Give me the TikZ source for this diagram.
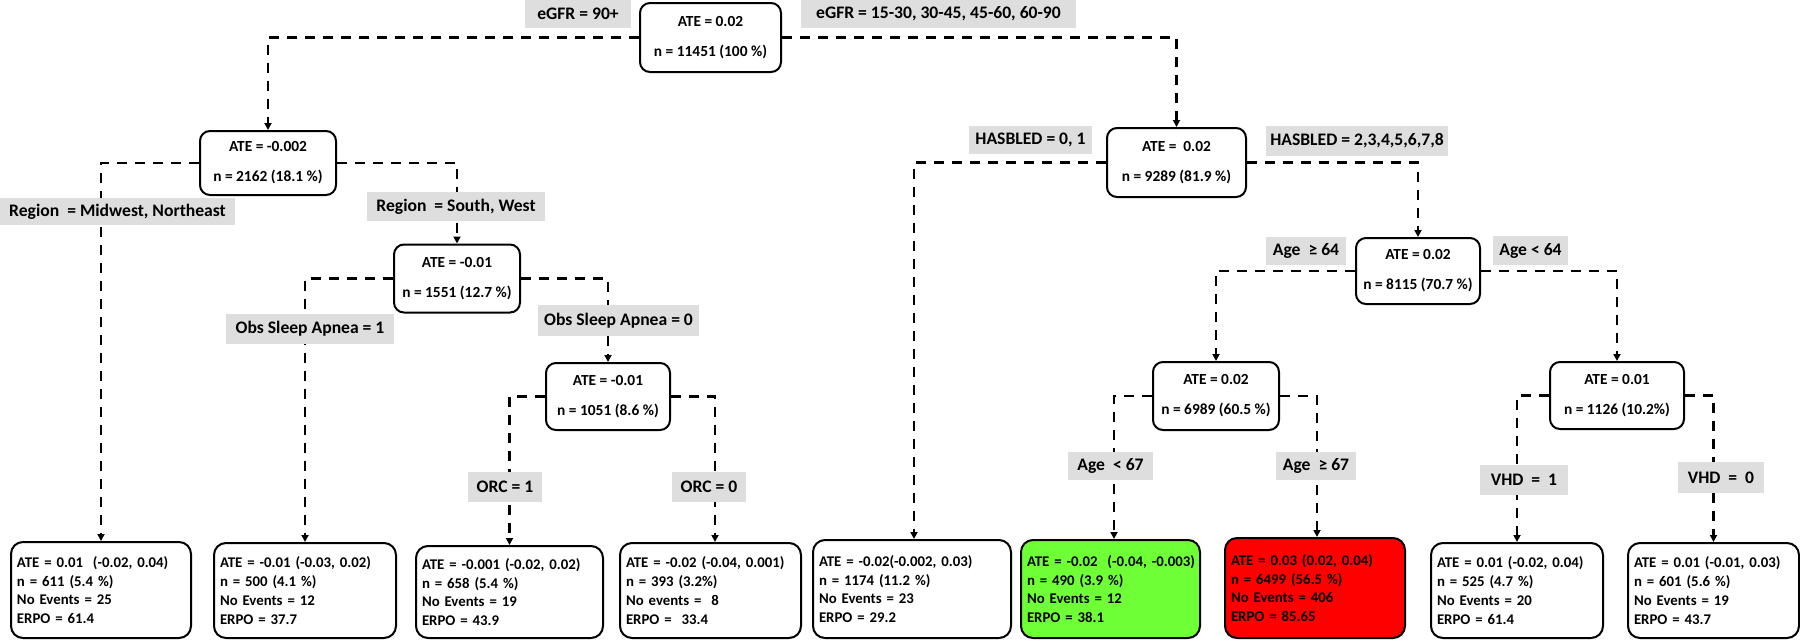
\documentclass[tikz,border=0pt]{standalone}
\usepackage{fontspec}
\setmainfont{Carlito}
\usetikzlibrary{arrows.meta}
\definecolor{lblgray}{RGB}{222,222,222}
\definecolor{leafgreen}{RGB}{110,255,55}
\definecolor{leafred}{RGB}{255,0,0}
\begin{document}
\begin{tikzpicture}[x=0.5pt,y=-0.5pt,
  box/.style={draw, line width=1pt, rounded corners=5pt, fill=white,
    font=\fontsize{7.7}{15}\selectfont\bfseries, align=center, inner sep=0pt},
  leaf/.style={draw, line width=1pt, rounded corners=6pt, fill=white,
    font=\fontsize{7.4}{9.4}\selectfont\bfseries, align=left,
    inner xsep=3pt, inner ysep=0pt, anchor=south},
  lbl/.style={fill=lblgray, inner sep=0pt, font=\fontsize{8.8}{10}\selectfont\bfseries},
  conn/.style={line width=1.35pt, dash pattern=on 5pt off 4pt},
  arr/.style={conn, -{Triangle[length=3.5pt,width=3.5pt]}}]
\useasboundingbox (0,0) rectangle (1800,643);

% internal nodes
\node[box, minimum width=70.5pt, minimum height=34.5pt] (root) at (710.5,37.5) {ATE = 0.02\\n = 11451 (100 \%)};
\node[box, minimum width=68pt, minimum height=32pt] (n1) at (268,163) {ATE = -0.002\\n = 2162 (18.1 \%)};
\node[box, minimum width=63pt, minimum height=34pt] (n2) at (457,278.5) {ATE = -0.01\\n = 1551 (12.7 \%)};
\node[box, minimum width=62pt, minimum height=33.5pt] (n3) at (608,396.5) {ATE = -0.01\\n = 1051 (8.6 \%)};
\node[box, minimum width=69.5pt, minimum height=34.5pt] (h) at (1176.5,162.5) {ATE = \ 0.02\\n = 9289 (81.9 \%)};
\node[box, minimum width=62pt, minimum height=33pt] (a) at (1418,271) {ATE = 0.02\\n = 8115 (70.7 \%)};
\node[box, minimum width=63pt, minimum height=34pt] (b) at (1216,396) {ATE = 0.02\\n = 6989 (60.5 \%)};
\node[box, minimum width=67pt, minimum height=33.5pt] (c) at (1617,395.5) {ATE = 0.01\\n = 1126 (10.2\%)};

% leaves
\node[leaf, text width=84pt, minimum height=48pt] (L1) at (101,639) {ATE = 0.01 \ (-0.02, 0.04)\\n = 611 (5.4 \%)\\No Events = 25\\ERPO = 61.4};
\node[leaf, text width=85pt, minimum height=47.5pt] (L2) at (305,639) {ATE = -0.01 (-0.03, 0.02)\\n = 500 (4.1 \%)\\No Events = 12\\ERPO = 37.7};
\node[leaf, text width=87.5pt, minimum height=46pt] (L3) at (509.5,639) {ATE = -0.001 (-0.02, 0.02)\\n = 658 (5.4 \%)\\No Events = 19\\ERPO = 43.9};
\node[leaf, text width=84.5pt, minimum height=47.5pt] (L4) at (710.5,639) {ATE = -0.02 (-0.04, 0.001)\\n = 393 (3.2\%)\\No events = \ 8\\ERPO = \ 33.4};
\node[leaf, text width=93pt, minimum height=49pt] (L5) at (912,639) {ATE = -0.02(-0.002, 0.03)\\n = 1174 (11.2 \%)\\No Events = 23\\ERPO = 29.2};
\node[leaf, fill=leafgreen, text width=83.5pt, minimum height=49pt] (L6) at (1110.5,639) {\mbox{ATE = -0.02 \ (-0.04, -0.003)}\\n = 490 (3.9 \%)\\No Events = 12\\ERPO = 38.1};
\node[leaf, fill=leafred, text width=84pt, minimum height=50pt] (L7) at (1315,639) {ATE = 0.03 (0.02, 0.04)\\n = 6499 (56.5 \%)\\No Events = 406\\ERPO = 85.65};
\node[leaf, text width=80pt, minimum height=47.5pt] (L8) at (1517,639) {ATE = 0.01 (-0.02, 0.04)\\n = 525 (4.7 \%)\\No Events = 20\\ERPO = 61.4};
\node[leaf, text width=79.5pt, minimum height=47.5pt] (L9) at (1713.5,639) {ATE = 0.01 (-0.01, 0.03)\\n = 601 (5.6 \%)\\No Events = 19\\ERPO = 43.7};

% connectors
\draw[arr] (root.west) -| (n1.north);
\draw[arr] (root.east) -| (h.north);
\draw[arr] (n1.west) -| (L1.north);
\draw[arr] (n1.east) -| (n2.north);
\draw[arr] (n2.west) -| (L2.north);
\draw[arr] (n2.east) -| (n3.north);
\draw[arr] (n3.west) -| (L3.north);
\draw[arr] (n3.east) -| ([xshift=2.25pt]L4.north);
\draw[arr] (h.west) -| ([xshift=1pt]L5.north);
\draw[arr] (h.east) -| (a.north);
\draw[arr] (a.west) -| (b.north);
\draw[arr] (a.east) -| (c.north);
\draw[arr] (b.west) -| ([xshift=1.75pt]L6.north);
\draw[arr] (b.east) -| ([xshift=1pt]L7.north);
\draw[arr] (c.west) -| (L8.north);
\draw[arr] (c.east) -| (L9.north);

% labels
\node[lbl, minimum width=53pt, minimum height=14pt] (e1) at (578,14) {eGFR = 90+};
\node[lbl, minimum width=137.5pt, minimum height=14pt] (e2) at (938.5,14) {eGFR = 15-30, 30-45, 45-60, 60-90};
\node[lbl, minimum width=117.5pt, minimum height=13.5pt] (r1) at (117.5,211.5) {Region \ = Midwest, Northeast};
\node[lbl, minimum width=89pt, minimum height=14.5pt] (r2) at (456,206.5) {Region \ = South, West};
\node[lbl, minimum width=84pt, minimum height=15pt] (o1) at (310,329) {Obs Sleep Apnea = 1};
\node[lbl, minimum width=80.5pt, minimum height=15.5pt] (o2) at (618.5,320.5) {Obs Sleep Apnea = 0};
\node[lbl, minimum width=37pt, minimum height=15pt] (c1) at (505,487) {ORC = 1};
\node[lbl, minimum width=37pt, minimum height=15pt] (c0) at (709,487) {ORC = 0};
\node[lbl, minimum width=61.5pt, minimum height=14pt] (hb1) at (1030.5,140) {HASBLED = 0, 1};
\node[lbl, minimum width=91pt, minimum height=15pt] (hb2) at (1357,141) {HASBLED = 2,3,4,5,6,7,8};
\node[lbl, minimum width=40pt, minimum height=14pt] (g1) at (1306,251) {Age \ ≥ 64};
\node[lbl, minimum width=37.5pt, minimum height=14.5pt] (g2) at (1530.5,250.5) {Age < 64};
\node[lbl, minimum width=42.5pt, minimum height=14pt] (g3) at (1110.5,466) {Age \ < 67};
\node[lbl, minimum width=40pt, minimum height=14pt] (g4) at (1316,466) {Age \ ≥ 67};
\node[lbl, minimum width=44pt, minimum height=15pt] (v1) at (1524,480) {VHD \ = \ 1};
\node[lbl, minimum width=43pt, minimum height=15.5pt] (v0) at (1721,477.5) {VHD \ = \ 0};
\end{tikzpicture}
\end{document}
